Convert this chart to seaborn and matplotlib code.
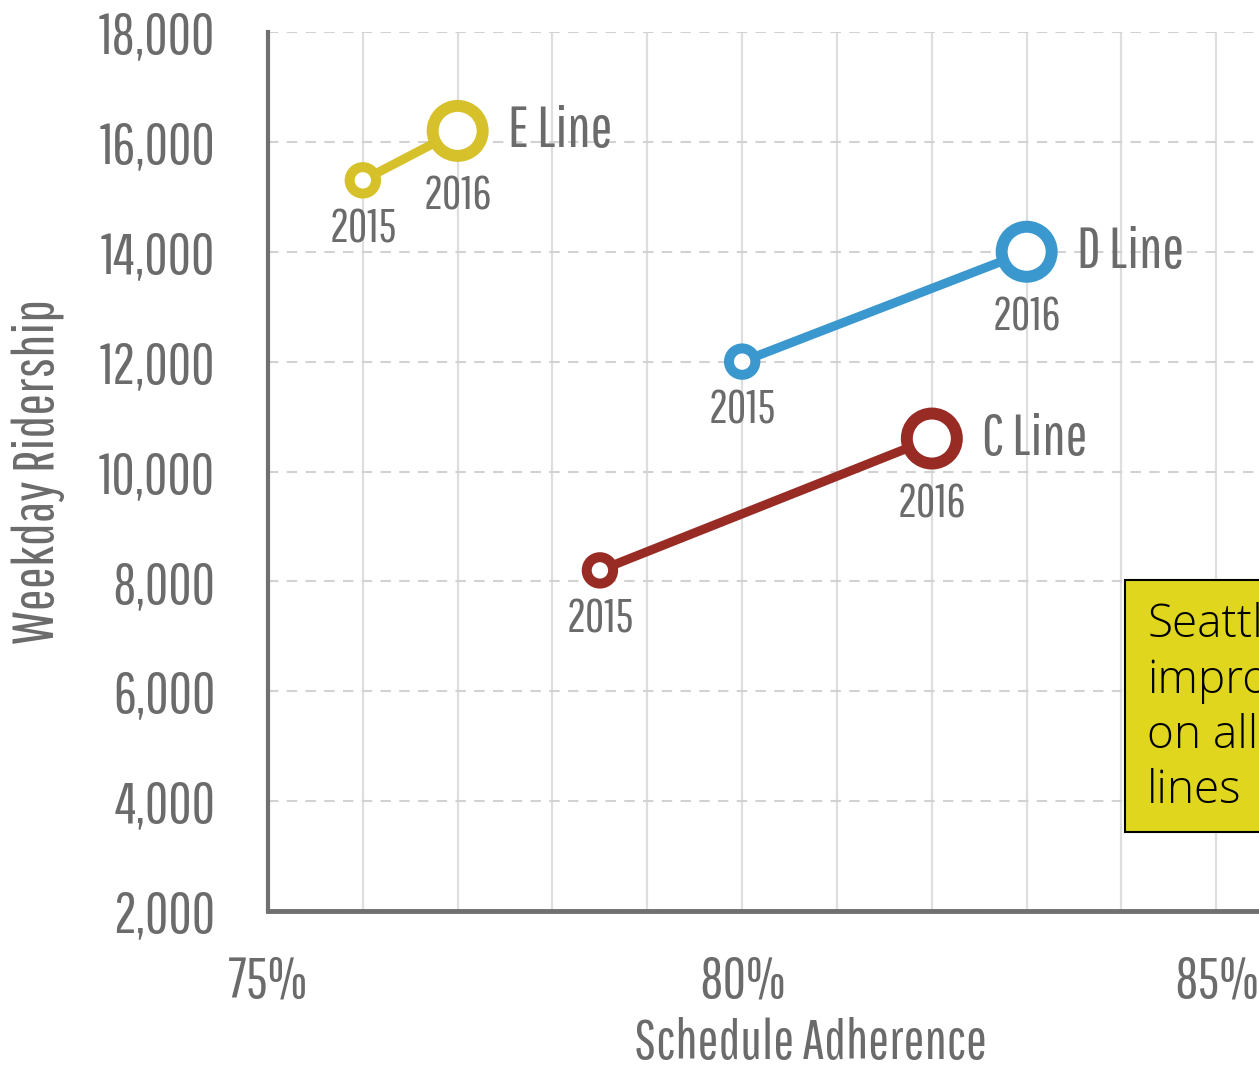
import matplotlib
matplotlib.use("Agg")
import matplotlib.pyplot as plt
from matplotlib.patches import Rectangle
from matplotlib.ticker import MultipleLocator, FuncFormatter
import pandas as pd
import seaborn as sns

# values
lines = ["E Line", "E Line", "D Line", "D Line", "C Line", "C Line"]
years = [2015, 2016, 2015, 2016, 2015, 2016]
adherence = [76.0, 77.0, 80.0, 83.0, 78.5, 82.0]
ridership = [15300, 16200, 12000, 14000, 8200, 10600]
line_colors = {"E Line": "#d6c12a", "D Line": "#3a98cf", "C Line": "#982b24"}
note_text = "Seattle\nimproved\non all\nlines"

df = pd.DataFrame({"line": lines, "year": years,
                   "adherence": adherence, "ridership": ridership})

sns.set_theme(style="whitegrid")
plt.rcParams["font.family"] = ["Pathway Gothic One", "DejaVu Sans"]
gray = "#6b6b6b"

fig = plt.figure(figsize=(12.59, 10.71), dpi=100)
ax = fig.add_axes([268 / 1259, 1 - 911 / 1071, 1 - 268 / 1259, (911 - 32) / 1071])

# connecting lines
sns.lineplot(data=df, x="adherence", y="ridership", hue="line", palette=line_colors,
             units="line", estimator=None, sort=False, lw=6.5, legend=False, ax=ax,
             zorder=3)

# open ring markers, 2016 bigger
for yr, ms, mew in [(2015, 19, 7.2), (2016, 36, 8.6)]:
    sub = df[df["year"] == yr]
    ax.scatter(sub["adherence"], sub["ridership"], s=ms ** 2, facecolor="white",
               edgecolor=[line_colors[l] for l in sub["line"]], linewidths=mew, zorder=4)

# year labels under the points, line names to the right of 2016 points
for _, r in df.iterrows():
    off = -35 if r["year"] == 2015 else -47
    ax.annotate(str(r["year"]), (r["adherence"], r["ridership"]), xytext=(0, off),
                textcoords="offset points", ha="center", va="center",
                fontsize=34, color=gray, zorder=5)
    if r["year"] == 2016:
        ax.annotate(r["line"], (r["adherence"], r["ridership"]), xytext=(36, 0),
                    textcoords="offset points", ha="left", va="center",
                    fontsize=42, color=gray, zorder=5)

ax.set_xlim(75, 85.45)
ax.set_ylim(2000, 18000)
ax.xaxis.set_major_locator(MultipleLocator(1))
ax.yaxis.set_major_locator(MultipleLocator(2000))
ax.xaxis.set_major_formatter(FuncFormatter(lambda v, p: f"{v:.0f}%" if round(v) % 5 == 0 else ""))
ax.yaxis.set_major_formatter(FuncFormatter(lambda v, p: f"{v:,.0f}"))

ax.grid(False)
ax.xaxis.grid(True, color="#dedede", lw=1.6, ls="-")
ax.yaxis.grid(True, color="#d2d2d2", lw=1.5, ls=(0, (5, 4)))
ax.set_axisbelow(True)

for s in ["top", "right"]:
    ax.spines[s].set_visible(False)
ax.spines["left"].set_color("#707070")
ax.spines["left"].set_linewidth(3)
ax.spines["bottom"].set_color("#707070")
ax.spines["bottom"].set_linewidth(3.5)

ax.tick_params(axis="both", which="major", direction="out", color="#707070",
               labelcolor=gray, labelsize=41, width=3)
ax.tick_params(axis="y", length=13, pad=25)
ax.tick_params(axis="x", length=12, pad=20)

ax.set_xlabel("Schedule Adherence", fontsize=40, color=gray)
ax.set_ylabel("Weekday Ridership", fontsize=42, color=gray)
ax.xaxis.set_label_coords(0.547, -0.151)
ax.yaxis.set_label_coords(-0.232, 0.5)
ax.xaxis.label.set_va("center")
ax.yaxis.label.set_va("center")

# callout box, cut off at the right edge of the picture
fig.add_artist(Rectangle((1125 / 1259, 1 - 832 / 1071), 0.2, (832 - 580) / 1071,
                         transform=fig.transFigure, facecolor="#e0d61e",
                         edgecolor="black", lw=1.5, zorder=10))
fig.text(1147 / 1259, 1 - 708 / 1071, note_text, ha="left", va="center",
         fontsize=33, family=["Open Sans", "DejaVu Sans"], fontweight="light",
         color="black", linespacing=1.27, zorder=11)

fig.savefig("out.png", dpi=100)
